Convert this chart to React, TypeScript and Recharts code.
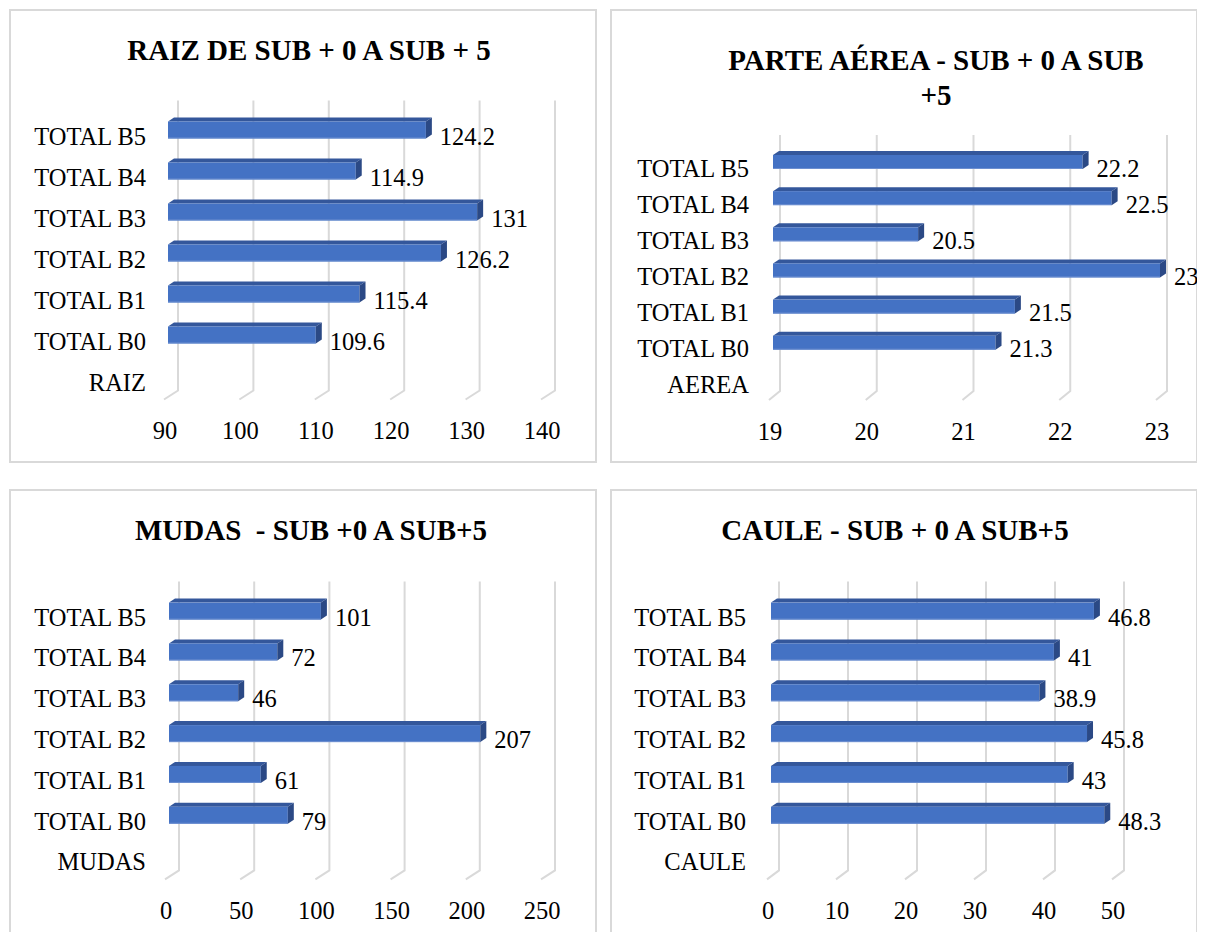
import React from 'react';
import { BarChart, Bar, XAxis, YAxis, CartesianGrid, LabelList } from 'recharts';

const FONT = '"Liberation Serif", "Times New Roman", serif';

const raizCategories = ['TOTAL B5', 'TOTAL B4', 'TOTAL B3', 'TOTAL B2', 'TOTAL B1', 'TOTAL B0', 'RAIZ'];
const raizValues: (number | null)[] = [124.2, 114.9, 131, 126.2, 115.4, 109.6, null];
const raizTicks = [90, 100, 110, 120, 130, 140];

const aereaCategories = ['TOTAL B5', 'TOTAL B4', 'TOTAL B3', 'TOTAL B2', 'TOTAL B1', 'TOTAL B0', 'AEREA'];
const aereaValues: (number | null)[] = [22.2, 22.5, 20.5, 23, 21.5, 21.3, null];
const aereaTicks = [19, 20, 21, 22, 23];

const mudasCategories = ['TOTAL B5', 'TOTAL B4', 'TOTAL B3', 'TOTAL B2', 'TOTAL B1', 'TOTAL B0', 'MUDAS'];
const mudasValues: (number | null)[] = [101, 72, 46, 207, 61, 79, null];
const mudasTicks = [0, 50, 100, 150, 200, 250];

const cauleCategories = ['TOTAL B5', 'TOTAL B4', 'TOTAL B3', 'TOTAL B2', 'TOTAL B1', 'TOTAL B0', 'CAULE'];
const cauleValues: (number | null)[] = [46.8, 41, 38.9, 45.8, 43, 48.3, null];
const cauleTicks = [0, 10, 20, 30, 40, 50];

type PanelProps = {
  left: number;
  top: number;
  titleLines: string[];
  titleX: number;
  titleY: number;
  categories: string[];
  values: (number | null)[];
  ticks: number[];
  plotLeft: number;
  plotRight: number;
  plotTop: number;
  plotBottom: number;
  labelRight: number;
  gridBack: number;
  barFront: number;
};

const W = 588;
const H = 454;
const LABEL_SIZE = 24.5;

const Bar3D = (props: any) => {
  const { x, y, width, height, value } = props;
  if (value == null || !(width > 0)) return null;
  const x0 = x + 3;
  const yf = y + 2;
  const hf = height;
  const dx = 6;
  const dy = 4;
  const w = width;
  return (
    <g>
      <polygon
        points={`${x0},${yf} ${x0 + dx},${yf - dy} ${x0 + w + dx},${yf - dy} ${x0 + w},${yf}`}
        fill="#34579b"
      />
      <rect x={x0} y={yf} width={w} height={hf} fill="#4472c4" />
      <line x1={x0} y1={yf + hf - 0.5} x2={x0 + w} y2={yf + hf - 0.5} stroke="#6d8fd0" strokeWidth={1} />
      <polygon
        points={`${x0 + w},${yf} ${x0 + w + dx},${yf - dy} ${x0 + w + dx},${yf + hf - dy} ${x0 + w},${yf + hf}`}
        fill="#2b4985"
      />
    </g>
  );
};

function Panel(p: PanelProps) {
  const data = p.categories.map((name, i) => ({ name, value: p.values[i] }));
  const yAxisWidth = 100;
  const xAxisHeight = 40;
  const margin = {
    left: p.plotLeft - yAxisWidth,
    right: W - p.plotRight,
    top: p.plotTop,
    bottom: H - p.plotBottom - xAxisHeight,
  };
  const domain: [number, number] = [p.ticks[0], p.ticks[p.ticks.length - 1]];

  const gridLine = (gp: any) => {
    const { x1, y1, y2, key } = gp;
    const bx = x1 + p.gridBack;
    return (
      <polyline
        key={key}
        points={`${bx},${y1 - 7} ${bx},${y2 - 4} ${x1 - 1},${y2 + 5}`}
        fill="none"
        stroke="#d9d9d9"
        strokeWidth={2}
      />
    );
  };

  const xTick = (tp: any) => {
    const { x, payload } = tp;
    return (
      <text x={x} y={p.plotBottom + 36} textAnchor="middle" dominantBaseline="central" fontFamily={FONT} fontSize={LABEL_SIZE} fill="#000">
        {payload.value}
      </text>
    );
  };

  const yTick = (tp: any) => {
    const { y, payload } = tp;
    return (
      <text x={p.labelRight} y={y + 8} textAnchor="end" dominantBaseline="central" fontFamily={FONT} fontSize={LABEL_SIZE} fill="#000">
        {payload.value}
      </text>
    );
  };

  const valueLabel = (lp: any) => {
    const { x, y, width, height, value } = lp;
    if (value == null) return null;
    return (
      <text x={x + width + 17} y={y + height / 2 + 8} textAnchor="start" dominantBaseline="central" fontFamily={FONT} fontSize={LABEL_SIZE} fill="#000">
        {value}
      </text>
    );
  };

  return (
    <div
      style={{
        position: 'absolute',
        left: p.left,
        top: p.top,
        width: W,
        height: H,
        boxSizing: 'border-box',
        border: '2px solid #d9d9d9',
        background: '#fff',
      }}
    >
      <div style={{ position: 'absolute', left: -2, top: -2 }}>
        {p.titleLines.map((t, i) => (
          <div
            key={i}
            style={{
              position: 'absolute',
              left: p.titleX - 300,
              width: 600,
              top: p.titleY + i * 35 - 16,
              height: 32,
              lineHeight: '32px',
              textAlign: 'center',
              fontFamily: FONT,
              fontWeight: 'bold',
              fontSize: 29,
              whiteSpace: 'pre',
              color: '#000',
            }}
          >
            {t}
          </div>
        ))}
        <BarChart
          width={W}
          height={H}
          data={data}
          layout="vertical"
          margin={margin}
          barSize={p.barFront}
          style={{ position: 'absolute', left: 0, top: 0 }}
        >
          <CartesianGrid horizontal={false} vertical={gridLine} stroke="#d9d9d9" />
          <XAxis
            type="number"
            domain={domain}
            ticks={p.ticks}
            interval={0}
            axisLine={false}
            tickLine={false}
            height={xAxisHeight}
            tick={xTick}
          />
          <YAxis
            type="category"
            dataKey="name"
            width={yAxisWidth}
            axisLine={false}
            tickLine={false}
            interval={0}
            tick={yTick}
          />
          <Bar dataKey="value" shape={Bar3D} isAnimationActive={false}>
            <LabelList dataKey="value" content={valueLabel} />
          </Bar>
        </BarChart>
      </div>
    </div>
  );
}

export default function App() {
  return (
    <div style={{ position: 'relative', width: 1205, height: 932, margin: '-8px 0 0 -8px', overflow: 'hidden', background: '#fff' }}>
      <Panel
        left={9}
        top={9}
        titleLines={['RAIZ DE SUB + 0 A SUB + 5']}
        titleX={300}
        titleY={41}
        categories={raizCategories}
        values={raizValues}
        ticks={raizTicks}
        plotLeft={156}
        plotRight={533}
        plotTop={98.5}
        plotBottom={385.5}
        labelRight={137}
        gridBack={13}
        barFront={17}
      />
      <Panel
        left={610}
        top={9}
        titleLines={['PARTE AÉREA - SUB + 0 A SUB', '+5']}
        titleX={326}
        titleY={51}
        categories={aereaCategories}
        values={aereaValues}
        ticks={aereaTicks}
        plotLeft={160}
        plotRight={547}
        plotTop={133}
        plotBottom={386}
        labelRight={139}
        gridBack={10}
        barFront={14}
      />
      <Panel
        left={9}
        top={489}
        titleLines={['MUDAS  - SUB +0 A SUB+5']}
        titleX={302}
        titleY={41}
        categories={mudasCategories}
        values={mudasValues}
        ticks={mudasTicks}
        plotLeft={157}
        plotRight={533}
        plotTop={99.6}
        plotBottom={385.4}
        labelRight={137}
        gridBack={13}
        barFront={17}
      />
      <Panel
        left={610}
        top={489}
        titleLines={['CAULE - SUB + 0 A SUB+5']}
        titleX={285}
        titleY={41}
        categories={cauleCategories}
        values={cauleValues}
        ticks={cauleTicks}
        plotLeft={158}
        plotRight={503}
        plotTop={99.6}
        plotBottom={385.4}
        labelRight={136}
        gridBack={11}
        barFront={17}
      />
    </div>
  );
}
